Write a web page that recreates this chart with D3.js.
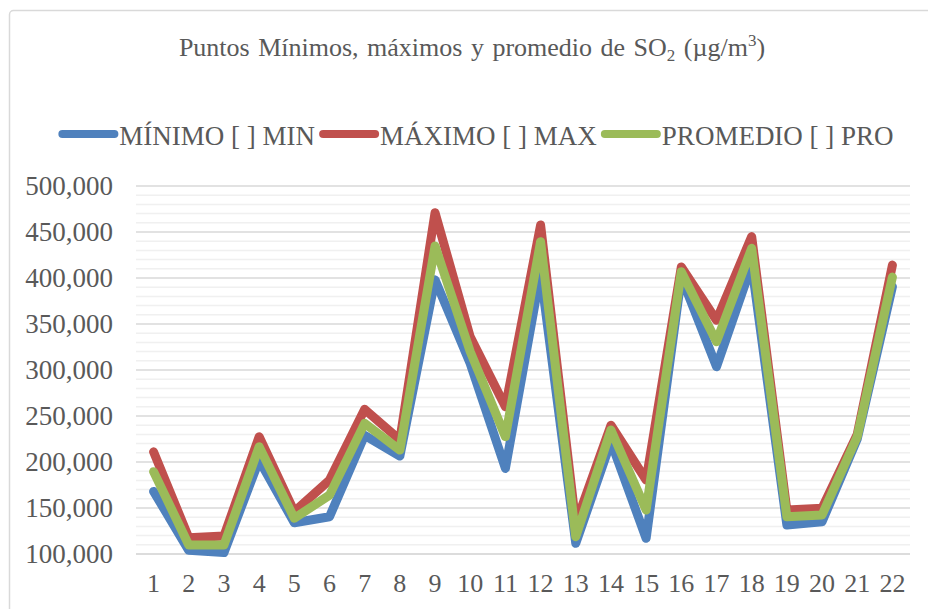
<!DOCTYPE html>
<html>
<head>
<meta charset="utf-8">
<script src="https://cdn.jsdelivr.net/npm/d3@7"></script>
<style>
  html, body { margin: 0; padding: 0; background: #fff; }
  text { font-family: "Liberation Serif", Tinos, "Times New Roman", Times, "DejaVu Serif", serif; fill: #595959; }
</style>
</head>
<body>
<div id="chart"></div>
<script>
// data
const categories = ['1','2','3','4','5','6','7','8','9','10','11','12','13','14','15','16','17','18','19','20','21','22'];
const minimo   = [168000, 104000, 101500, 202000, 134000, 140500, 229000, 206500, 398000, 307000, 193000, 406000, 111600, 222000, 117000, 401000, 303600, 414000, 131500, 135000, 225000, 390500];
const maximo   = [211000, 117700, 119600, 227500, 146000, 180400, 257300, 224000, 471000, 336000, 260000, 457600, 133000, 240000, 180400, 412000, 354000, 445000, 147800, 149700, 230000, 414000];
const promedio = [189500, 109800, 109800, 216600, 138800, 164000, 242000, 213000, 434800, 320000, 227500, 439500, 118800, 234800, 147800, 406900, 330800, 432300, 140500, 142400, 227500, 401000];
const yTicks = [100000, 150000, 200000, 250000, 300000, 350000, 400000, 450000, 500000];
const seriesNames = ['MÍNIMO [ ] MIN', 'MÁXIMO [ ] MAX', 'PROMEDIO [ ] PRO'];
const seriesColors = ['#4F81BD', '#C0504D', '#9BBB59'];

const fontStack = '"Liberation Serif", Tinos, "Times New Roman", Times, "DejaVu Serif", serif';

// chart static params
const width = 928, height = 609;
const margin = {top: 186, right: 18, bottom: 55, left: 136};
const plotW = width - margin.left - margin.right,
      plotH = height - margin.top - margin.bottom;

const svg = d3.select('#chart').append('svg')
    .attr('width', width)
    .attr('height', height);

// chart border
svg.append('rect')
  .attr('x', 9.5).attr('y', 10.5)
  .attr('width', 940).attr('height', 640)
  .attr('rx', 4)
  .attr('fill', 'none')
  .attr('stroke', '#D9D9D9')
  .attr('stroke-width', 1.5);

// scales
const xScale = d3.scaleBand().domain(categories).range([0, plotW]);
const yScale = d3.scaleLinear().domain([100000, 500000]).range([plotH, 0]);

const g = svg.append('g')
    .attr('transform', `translate(${margin.left},${margin.top})`);

// minor grid every 10,000
const minorTicks = yScale.ticks(40).filter(v => v % 50000 !== 0);
g.append('g').selectAll('line')
  .data(minorTicks)
  .join('line')
    .attr('x1', 0).attr('x2', plotW)
    .attr('y1', d => yScale(d)).attr('y2', d => yScale(d))
    .attr('stroke', '#F0F0F0')
    .attr('stroke-width', 1.5);

// major grid
g.append('g').selectAll('line')
  .data(yTicks)
  .join('line')
    .attr('x1', 0).attr('x2', plotW)
    .attr('y1', d => yScale(d)).attr('y2', d => yScale(d))
    .attr('stroke', d => d === 100000 ? '#D0D0D0' : '#D9D9D9')
    .attr('stroke-width', 1.5);

// Y axis labels
const yAxis = g.append('g')
    .call(d3.axisLeft(yScale).tickValues(yTicks).tickFormat(d3.format(',')).tickSize(0).tickPadding(23));
yAxis.attr('font-family', fontStack);
yAxis.select('.domain').remove();
yAxis.selectAll('text')
    .attr('font-size', 27)
    .attr('fill', '#595959');

// X axis labels
const xAxis = g.append('g')
    .attr('transform', `translate(0,${plotH})`)
    .call(d3.axisBottom(xScale).tickSize(0).tickPadding(20));
xAxis.attr('font-family', fontStack);
xAxis.select('.domain').remove();
xAxis.selectAll('text')
    .attr('font-size', 26)
    .attr('fill', '#595959');

// lines
const line = d3.line()
    .x((d, i) => xScale(categories[i]) + xScale.bandwidth() / 2)
    .y(d => yScale(d));

[minimo, maximo, promedio].forEach((s, i) => {
  g.append('path')
    .datum(s)
    .attr('fill', 'none')
    .attr('stroke', seriesColors[i])
    .attr('stroke-width', 9)
    .attr('stroke-linejoin', 'round')
    .attr('stroke-linecap', 'round')
    .attr('d', line);
});

// title
const title = svg.append('text')
    .attr('x', 472).attr('y', 56)
    .attr('text-anchor', 'middle')
    .attr('font-size', 26)
    .attr('word-spacing', 2);
title.append('tspan').text('Puntos Mínimos, máximos y promedio de SO');
title.append('tspan').attr('font-size', 17).attr('dy', 5).text('2');
title.append('tspan').attr('dy', -5).text(' (µg/m');
title.append('tspan').attr('font-size', 17).attr('dy', -10).text('3');
title.append('tspan').attr('dy', 10).text(')');

// legend
const legend = svg.append('g');
const legendY = 134, keyW = 60;
let lx = 0;
seriesNames.forEach((name, i) => {
  const item = legend.append('g').attr('transform', `translate(${lx},0)`);
  item.append('line')
    .attr('x1', 4).attr('x2', keyW - 4)
    .attr('y1', legendY).attr('y2', legendY)
    .attr('stroke', seriesColors[i])
    .attr('stroke-width', 8)
    .attr('stroke-linecap', 'round');
  const t = item.append('text')
    .attr('x', keyW + 1).attr('y', legendY + 11)
    .attr('font-size', 27)
    .text(name);
  lx += keyW + 1 + t.node().getComputedTextLength() + 4;
});
legend.attr('transform', `translate(${(60 + 892) / 2 - (lx - 4) / 2},0)`);
</script>
</body>
</html>
